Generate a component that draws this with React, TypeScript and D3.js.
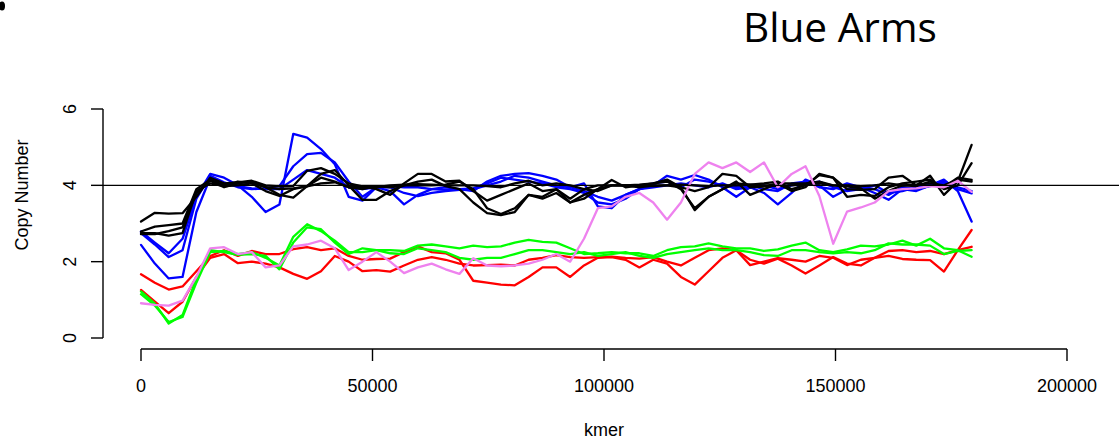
import React from "react";
import * as d3 from "d3";

// x grid (kmer position of each window)
const KMER_STEP = 2990;
const kmer: number[] = d3.range(61).map((i) => i * KMER_STEP);

const xTicks = [0, 50000, 100000, 150000, 200000];
const yTicks = [0, 2, 4, 6];

const blue1 = [2.79,2.5,2.22,2.6,3.7,4.3,4.2,4.0,3.7,3.3,3.5,5.35,5.25,4.95,4.55,3.7,3.6,3.95,
  3.85,3.5,3.75,3.9,3.95,3.9,3.85,4.1,4.25,4.3,4.32,4.25,4.15,3.95,4.05,3.45,3.4,3.75,3.9,
  4.0,4.25,4.15,4.27,4.15,3.95,3.7,3.95,3.8,3.5,3.8,4.15,4.0,3.7,3.9,3.95,3.8,3.62,
  3.9,3.85,4.0,4.15,3.85,3.05];
const blue2 = [2.75,2.45,2.12,2.3,3.65,4.25,4.08,3.95,3.9,3.92,3.98,4.5,4.82,4.85,4.6,4.1,3.7,3.95,
  3.95,3.8,3.72,3.8,3.85,3.88,3.9,4.0,4.1,4.25,4.2,4.1,4.0,3.95,3.85,3.7,3.6,3.75,3.9,
  4.05,4.1,3.95,4.15,4.1,4.0,3.95,4.0,3.9,3.85,4.05,4.1,3.95,3.9,4.05,3.95,3.9,3.75,
  3.95,3.9,3.98,4.05,3.9,3.79];
const blue3 = [2.44,1.95,1.56,1.6,3.3,4.2,4.05,3.98,3.92,3.9,3.9,4.15,4.4,4.3,4.2,3.95,3.9,3.95,
  3.98,3.95,3.95,3.9,3.88,3.9,3.92,4.05,4.2,4.15,4.1,4.05,3.95,3.9,3.8,3.55,3.5,3.65,3.9,
  3.95,4.0,4.05,4.0,3.95,4.05,3.9,3.95,4.0,3.9,4.0,4.05,4.1,3.95,3.85,3.9,4.0,3.8,
  3.85,3.95,4.02,4.1,3.95,3.85];

const black1 = [3.05,3.28,3.26,3.27,3.7,4.2,4.05,4.08,4.12,4.0,3.97,3.98,4.38,4.45,4.3,4.05,3.97,3.9,
  3.75,4.05,4.3,4.3,4.1,4.12,3.85,3.6,3.75,3.9,4.05,3.85,3.9,3.55,3.75,3.9,4.14,3.95,4.0,
  4.05,4.15,3.95,3.35,3.7,3.9,4.05,4.02,4.05,4.1,3.9,4.0,4.27,4.2,3.9,3.88,3.9,4.2,
  4.25,4.0,4.25,3.75,4.1,5.06];
const black2 = [2.79,2.92,2.96,3.0,3.9,4.15,4.0,4.1,4.05,3.85,3.72,3.9,3.98,4.3,4.4,4.0,3.62,3.62,
  3.85,4.0,4.1,4.15,3.98,3.9,3.55,3.27,3.22,3.3,3.75,3.7,3.9,3.65,3.9,3.85,4.0,4.0,4.02,
  4.05,4.1,3.9,3.4,3.7,3.9,4.1,3.75,3.9,4.05,3.85,3.95,4.3,4.2,3.7,3.75,3.72,3.95,
  4.05,4.1,4.15,3.9,4.0,4.58];
const black3 = [2.75,2.75,2.68,2.75,3.85,4.05,3.98,4.0,4.05,3.95,3.9,3.92,3.97,4.05,4.08,3.95,3.9,3.98,
  3.95,4.0,4.0,4.0,4.02,4.1,3.9,3.4,3.25,3.4,3.75,3.65,3.8,3.55,3.65,3.9,4.0,4.0,3.95,
  4.0,4.0,3.95,3.85,3.95,4.3,4.25,3.95,3.97,4.05,4.05,4.05,4.1,4.0,3.97,3.92,3.65,3.85,
  4.0,3.98,4.1,3.95,4.2,4.14];
const black4 = [2.72,2.72,2.8,2.9,3.8,4.12,3.95,4.05,4.1,3.95,3.75,3.68,3.98,4.2,4.1,3.95,3.95,3.95,
  4.0,4.02,4.03,4.02,4.0,4.0,4.0,3.98,3.95,4.05,4.12,4.0,4.05,4.0,3.9,4.0,4.0,4.0,3.98,
  3.98,4.0,4.02,4.0,3.98,4.0,4.0,4.02,4.0,3.98,4.0,4.02,4.05,4.0,4.0,3.98,4.0,4.05,
  4.0,4.02,4.05,4.0,4.15,4.1];

const green1 = [1.15,0.85,0.42,0.55,1.45,2.25,2.28,2.2,2.25,2.1,1.9,2.65,2.98,2.8,2.55,2.25,2.25,2.3,
  2.3,2.28,2.42,2.45,2.4,2.35,2.42,2.38,2.4,2.5,2.57,2.52,2.5,2.35,2.2,2.22,2.25,2.22,2.22,
  2.15,2.3,2.38,2.4,2.48,2.4,2.35,2.35,2.28,2.32,2.42,2.5,2.3,2.25,2.32,2.42,2.4,2.45,
  2.55,2.42,2.6,2.35,2.3,2.13];
const green2 = [1.22,0.9,0.38,0.6,1.55,2.3,2.25,2.18,2.2,2.15,1.8,2.5,2.9,2.85,2.5,2.2,2.35,2.3,
  2.22,2.2,2.35,2.3,2.25,2.1,2.05,2.1,2.1,2.2,2.3,2.3,2.25,2.2,2.25,2.15,2.2,2.25,2.15,
  2.1,2.2,2.25,2.3,2.35,2.3,2.3,2.25,2.17,2.15,2.3,2.3,2.25,2.22,2.25,2.22,2.3,2.48,
  2.45,2.45,2.42,2.2,2.28,2.3];

const red1 = [1.67,1.45,1.27,1.35,1.75,2.15,2.3,2.15,2.28,2.2,2.2,2.33,2.38,2.3,2.35,2.15,2.05,2.07,
  2.08,2.25,2.4,2.25,2.22,2.05,1.5,1.45,1.4,1.38,1.6,1.85,1.85,1.6,1.9,2.1,2.12,2.05,1.85,
  2.05,1.95,1.6,1.4,1.75,2.1,2.3,2.05,1.95,2.08,1.9,1.69,1.9,2.12,1.95,1.9,2.1,2.28,
  2.3,2.25,2.28,2.2,2.3,2.39];
const red2 = [1.26,0.95,0.65,0.95,1.6,2.1,2.2,1.96,2.0,1.95,1.85,1.68,1.55,1.75,2.15,2.0,1.75,1.78,
  1.74,1.9,2.05,2.12,2.05,1.95,1.9,1.91,1.92,1.9,2.05,2.1,2.17,2.12,2.1,2.12,2.13,2.1,2.08,
  2.12,2.0,1.9,2.1,2.3,2.35,2.3,1.91,2.0,2.09,2.05,2.0,2.15,2.1,1.91,2.05,2.1,2.15,
  2.07,2.05,2.04,1.74,2.3,2.83];

const violet1 = [0.91,0.87,0.85,0.98,1.6,2.35,2.38,2.2,2.25,1.85,1.9,2.4,2.45,2.55,2.35,1.78,2.0,2.25,
  2.0,1.7,1.85,1.95,1.8,1.68,2.09,1.9,1.88,1.9,1.95,2.05,2.2,2.0,2.6,3.4,3.45,3.7,3.8,
  3.55,3.1,3.55,4.3,4.6,4.45,4.6,4.35,4.6,3.95,4.3,4.5,3.72,2.47,3.31,3.42,3.55,3.85,
  3.9,3.92,3.98,3.95,4.12,3.83];

const seriesList: { values: number[]; color: string }[] = [
  { values: blue1, color: "#0000FF" },
  { values: blue2, color: "#0000FF" },
  { values: blue3, color: "#0000FF" },
  { values: black1, color: "#000000" },
  { values: black2, color: "#000000" },
  { values: black3, color: "#000000" },
  { values: black4, color: "#000000" },
  { values: red1, color: "#FF0000" },
  { values: red2, color: "#FF0000" },
  { values: green1, color: "#00FF00" },
  { values: green2, color: "#00FF00" },
  { values: violet1, color: "#EE82EE" },
];

const W = 1119;
const H = 442;
const FONT = "'Liberation Sans', Arial, Helvetica, sans-serif";

export default function App() {
  const x = d3.scaleLinear().domain([0, 200000]).range([141, 1067]);
  const y = d3.scaleLinear().domain([0, 6]).range([338, 109]);
  const line = d3
    .line<number>()
    .x((_, i) => x(kmer[i]))
    .y((v) => y(v));

  const axisLeftX = 103;
  const axisBottomY = 349;
  const tickLen = 12;

  return (
    <svg
      width={W}
      height={H}
      style={{ position: "absolute", left: 0, top: 0, background: "#fff" }}
    >
      <rect x={0} y={0} width={W} height={H} fill="#fff" />
      <ellipse cx={2} cy={6} rx={3} ry={4.5} fill="#000" />
      <text
        x={743}
        y={42}
        fontFamily="'Open Sans', sans-serif"
        fontSize={40.6}
        fill="#000"
      >
        Blue Arms
      </text>

      {/* y axis */}
      <line x1={axisLeftX} x2={axisLeftX} y1={y(6)} y2={y(0)} stroke="#000" strokeWidth={1.4} />
      {yTicks.map((t) => (
        <g key={"y" + t}>
          <line x1={axisLeftX - tickLen} x2={axisLeftX} y1={y(t)} y2={y(t)} stroke="#000" strokeWidth={1.4} />
          <text
            transform={`translate(76,${y(t)}) rotate(-90)`}
            textAnchor="middle"
            fontFamily={FONT}
            fontSize={18}
            fill="#000"
          >
            {t}
          </text>
        </g>
      ))}
      <text
        transform={`translate(28,195) rotate(-90)`}
        textAnchor="middle"
        fontFamily={FONT}
        fontSize={18}
        fill="#000"
      >
        Copy Number
      </text>

      {/* x axis */}
      <line x1={x(0)} x2={x(200000)} y1={axisBottomY} y2={axisBottomY} stroke="#000" strokeWidth={1.4} />
      {xTicks.map((t) => (
        <g key={"x" + t}>
          <line x1={x(t)} x2={x(t)} y1={axisBottomY} y2={axisBottomY + tickLen} stroke="#000" strokeWidth={1.4} />
          <text x={x(t)} y={392} textAnchor="middle" fontFamily={FONT} fontSize={18} fill="#000">
            {t}
          </text>
        </g>
      ))}
      <text x={604} y={436} textAnchor="middle" fontFamily={FONT} fontSize={18} fill="#000">
        kmer
      </text>

      {/* series */}
      {seriesList.map((s, k) => (
        <path
          key={k}
          d={line(s.values) || ""}
          fill="none"
          stroke={s.color}
          strokeWidth={2.3}
          strokeLinejoin="round"
          strokeLinecap="round"
        />
      ))}

      {/* reference line at 4 */}
      <line x1={axisLeftX} x2={W} y1={y(4)} y2={y(4)} stroke="#000" strokeWidth={1.4} />
    </svg>
  );
}
